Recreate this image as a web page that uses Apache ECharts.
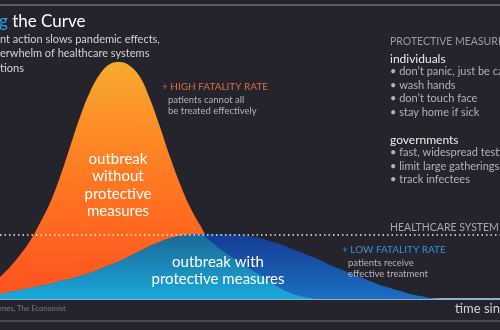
<!DOCTYPE html>
<html><head><meta charset="utf-8">
<script src="https://cdn.jsdelivr.net/npm/echarts@6/dist/echarts.min.js"></script>
<style>html,body{margin:0;padding:0;background:#25232b;}#c{width:500px;height:330px;}</style>
</head><body><div id="c"></div>
<script>
// time since first case (arbitrary units)
const time = [0,2,4,6,8,10,12,14,16,18,20,22,24,26,28,30,32,34,36,38,40,42,44,46,48,50,52,54,56,58,60,62,64,66,68,70,72,74,76,78,80,82,84,86,88];
// outbreak without protective measures
const withoutMeasures = [8.8,12.8,17.6,23.2,30.4,38.4,48.8,60.8,72.8,82.8,90,94,94.8,93.2,88.8,80,68.8,56.8,46,36.8,29.6,23.2,20,17.2,14.4,12,9.6,6.8,4.4,2.4,1.2,0.4,0,0,0,0,0,0,0,0,0,0,0,0,0];
// outbreak with protective measures
const withMeasures = [2,2.8,3.6,4.4,5.2,6,7.2,8,9.2,10.4,12,13.6,15.2,17.2,19.2,21.2,22.8,24.4,25.2,25.8,26,26,26,25.8,25.6,25.2,24.4,23.2,22,20.4,18.8,17.2,15.6,13.6,12,10.4,8.8,7.2,5.6,4.4,3.2,2,1.2,0.4,0];
// healthcare system capacity
const capacity = 25.6;

const pairs = a => time.map((t,i)=>[t,a[i]]);
const overlap = time.map((t,i)=>[t, Math.min(withoutMeasures[i], withMeasures[i])]);

const chart = echarts.init(document.getElementById('c'));
const grey = '#b4b3b8';
const font = 'Lato, "Open Sans", sans-serif';
function txt(x,y,text,size,color,extra){
  return Object.assign({type:'text',left:x,top:y,z:100,style:Object.assign({text:text,fontSize:size,fill:color,fontFamily:font},extra||{})});
}
chart.setOption({
  backgroundColor:'#25232b',
  animation:false,
  grid:{left:0,right:0,top:49,bottom:31},
  xAxis:{type:'value',min:0,max:100,axisLine:{show:true,lineStyle:{color:'#8fb2cb',width:2}},axisTick:{show:false},axisLabel:{show:false},splitLine:{show:false}},
  yAxis:{type:'value',min:0,max:100,axisLine:{show:false},axisTick:{show:false},axisLabel:{show:false},splitLine:{show:false}},
  series:[
    {type:'line',data:pairs(withoutMeasures),smooth:0.4,symbol:'none',lineStyle:{width:0},z:1,
     areaStyle:{opacity:1,color:new echarts.graphic.LinearGradient(0,0,0,1,[{offset:0,color:'#f9aa2d'},{offset:0.45,color:'#ff7c22'},{offset:1,color:'#ff511f'}])}},
    {type:'line',data:pairs(withMeasures),smooth:0.4,symbol:'none',lineStyle:{width:0},z:2,
     areaStyle:{opacity:1,color:new echarts.graphic.LinearGradient(0,0,0,1,[{offset:0,color:'#163c92'},{offset:1,color:'#1a6fc4'}])},
     markLine:{silent:true,symbol:'none',label:{show:false},lineStyle:{color:'#e6e6ea',type:[1.5,3],width:1.5},data:[{yAxis:capacity}]}},
    {type:'line',data:overlap,smooth:0.4,symbol:'none',lineStyle:{width:0},z:3,
     areaStyle:{opacity:1,color:new echarts.graphic.LinearGradient(0,0,0,1,[{offset:0,color:'#1c6895'},{offset:1,color:'#18aadb'}])}}
  ],
  graphic:[
    {type:'line',shape:{x1:0,y1:5,x2:500,y2:5},style:{stroke:'#5b5962',lineWidth:2}},
    {type:'line',shape:{x1:0,y1:321,x2:500,y2:321},style:{stroke:'#55535c',lineWidth:1.5}},
    {type:'text',left:-1,top:13,z:100,style:{text:'{b|g} the Curve',fontFamily:font,rich:{b:{fill:'#2aa2e0',fontSize:17,fontFamily:font}},fontSize:17,fill:'#ffffff'}},
    txt(0,34,'nt action slows pandemic effects,',11,'#d4d3d8'),
    txt(0,48,'erwhelm of healthcare systems',11,'#d4d3d8'),
    txt(0,63,'tions',11,'#d4d3d8'),
    txt(162,82,'+ HIGH FATALITY RATE',10,'#d5733d'),
    txt(168,95,'patients cannot all',9.5,grey),
    txt(168,106,'be treated effectively',9.5,grey),
    {type:'text',x:118,y:150,z:100,style:{text:'outbreak\nwithout\nprotective\nmeasures',fontSize:15,lineHeight:17.5,fill:'#ffffff',align:'center',fontFamily:font}},
    {type:'text',x:218,y:254,z:100,style:{text:'outbreak with\nprotective measures',fontSize:15,lineHeight:17,fill:'#ffffff',align:'center',fontFamily:font}},
    txt(342,245,'+ LOW FATALITY RATE',10,'#3a92d6'),
    txt(348,258,'patients receive',9.5,grey),
    txt(348,269,'effective treatment',9.5,grey),
    txt(390,36,'PROTECTIVE MEASURES',10.5,'#9c9ba2'),
    txt(390,53,'individuals',12,'#ececef'),
    txt(390,66,'• don\u2019t panic, just be calm',11,grey),
    txt(390,80,'• wash hands',11,grey),
    txt(390,93,'• don\u2019t touch face',11,grey),
    txt(390,107,'• stay home if sick',11,grey),
    txt(390,134,'governments',12,'#ececef'),
    txt(390,147,'• fast, widespread testing',11,grey),
    txt(390,161,'• limit large gatherings',11,grey),
    txt(390,174,'• track infectees',11,grey),
    txt(390,222,'HEALTHCARE SYSTEM',10.5,'#a8a7ad'),
    txt(0,305,'mes, The Economist',7.5,'#7b7a80'),
    txt(455,302,'time since first case',13,'#d4d3d8')
  ]
});
</script></body></html>
